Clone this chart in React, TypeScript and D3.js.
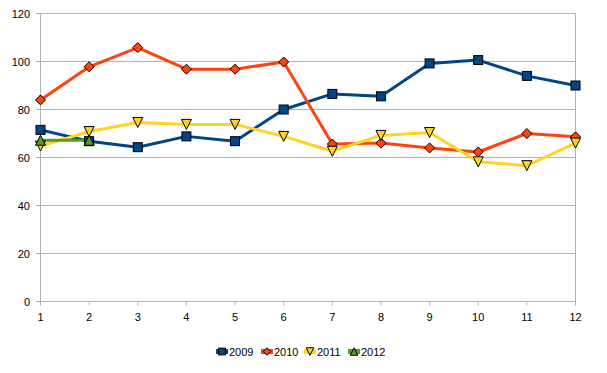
import React from "react";
import * as d3 from "d3";

const months = [1, 2, 3, 4, 5, 6, 7, 8, 9, 10, 11, 12];
const s2009 = [71.5, 66.8, 64.3, 68.8, 66.8, 80, 86.5, 85.5, 99.2, 100.6, 94, 90];
const s2010 = [84, 97.8, 105.8, 96.8, 96.8, 99.8, 65.6, 66, 64, 62.3, 70, 68.6];
const s2011 = [64.8, 70.8, 74.6, 73.8, 73.8, 68.8, 62.6, 69.2, 70.4, 58.2, 56.6, 66];
const s2012 = [67.2, 67.2];
const yTicks = [0, 20, 40, 60, 80, 100, 120];
const seriesNames = ["2009", "2010", "2011", "2012"];
const colors = ["#004586", "#ff420e", "#ffd320", "#579d1c"];
const markers = ["square", "diamond", "down", "up"];

function Marker({ type, x, y, color, s = 1 }: { type: string; x: number; y: number; color: string; s?: number }) {
  const st = { fill: color, stroke: "#000", strokeWidth: 1 };
  if (type === "square") {
    const h = 4.5 * s;
    return <rect x={x - h} y={y - h} width={2 * h} height={2 * h} {...st} />;
  }
  if (type === "diamond") {
    const h = 5 * s;
    return <path d={`M${x},${y - h}L${x + h},${y}L${x},${y + h}L${x - h},${y}Z`} {...st} />;
  }
  if (type === "down") {
    const h = 5 * s;
    return <path d={`M${x - h},${y - h}L${x + h},${y - h}L${x},${y + h}Z`} {...st} />;
  }
  const h = 5 * s;
  return <path d={`M${x - h},${y + h}L${x + h},${y + h}L${x},${y - h}Z`} {...st} />;
}

export default function App() {
  const W = 607, H = 373;
  const x = d3.scaleLinear().domain([1, 12]).range([40.5, 575.5]);
  const y = d3.scaleLinear().domain([0, 120]).range([301.5, 13.5]);
  const all = [s2009, s2010, s2011, s2012];
  const line = d3.line<number>().x((_, i) => x(months[i])).y((d) => y(d));
  const font = "'Liberation Sans', Arial, sans-serif";
  const legendX = [216, 261, 304, 348];
  return (
    <svg width={W} height={H} style={{ position: "absolute", left: 0, top: 0 }}>
      <rect width={W} height={H} fill="#fff" />
      {yTicks.map((t) => (
        <g key={t}>
          <line x1={36} x2={575.5} y1={y(t)} y2={y(t)} stroke="#b3b3b3" strokeWidth={1} />
          <text x={30} y={y(t) + 4} textAnchor="end" fontFamily={font} fontSize={11} fill="#000">{t}</text>
        </g>
      ))}
      <line x1={40.5} x2={40.5} y1={13.5} y2={301.5} stroke="#b3b3b3" />
      <line x1={575.5} x2={575.5} y1={13.5} y2={301.5} stroke="#b3b3b3" />
      {months.map((m) => (
        <g key={m}>
          <line x1={x(m)} x2={x(m)} y1={301.5} y2={305.5} stroke="#b3b3b3" />
          <text x={x(m)} y={321} textAnchor="middle" fontFamily={font} fontSize={11} fill="#000">{m}</text>
        </g>
      ))}
      {all.map((s, k) => (
        <path key={k} d={line(s) || ""} fill="none" stroke={colors[k]} strokeWidth={3} strokeLinejoin="round" />
      ))}
      {all.map((s, k) =>
        s.map((v, i) => <Marker key={`${k}-${i}`} type={markers[k]} x={x(months[i])} y={y(v)} color={colors[k]} />)
      )}
      {seriesNames.map((n, k) => (
        <g key={n}>
          <line x1={legendX[k]} x2={legendX[k] + 12} y1={351.5} y2={351.5} stroke={colors[k]} strokeWidth={5} />
          <Marker type={markers[k]} x={legendX[k] + 6} y={351.5} color={colors[k]} s={0.75} />
          <text x={legendX[k] + 13} y={356} fontFamily={font} fontSize={11} fill="#000">{n}</text>
        </g>
      ))}
    </svg>
  );
}
